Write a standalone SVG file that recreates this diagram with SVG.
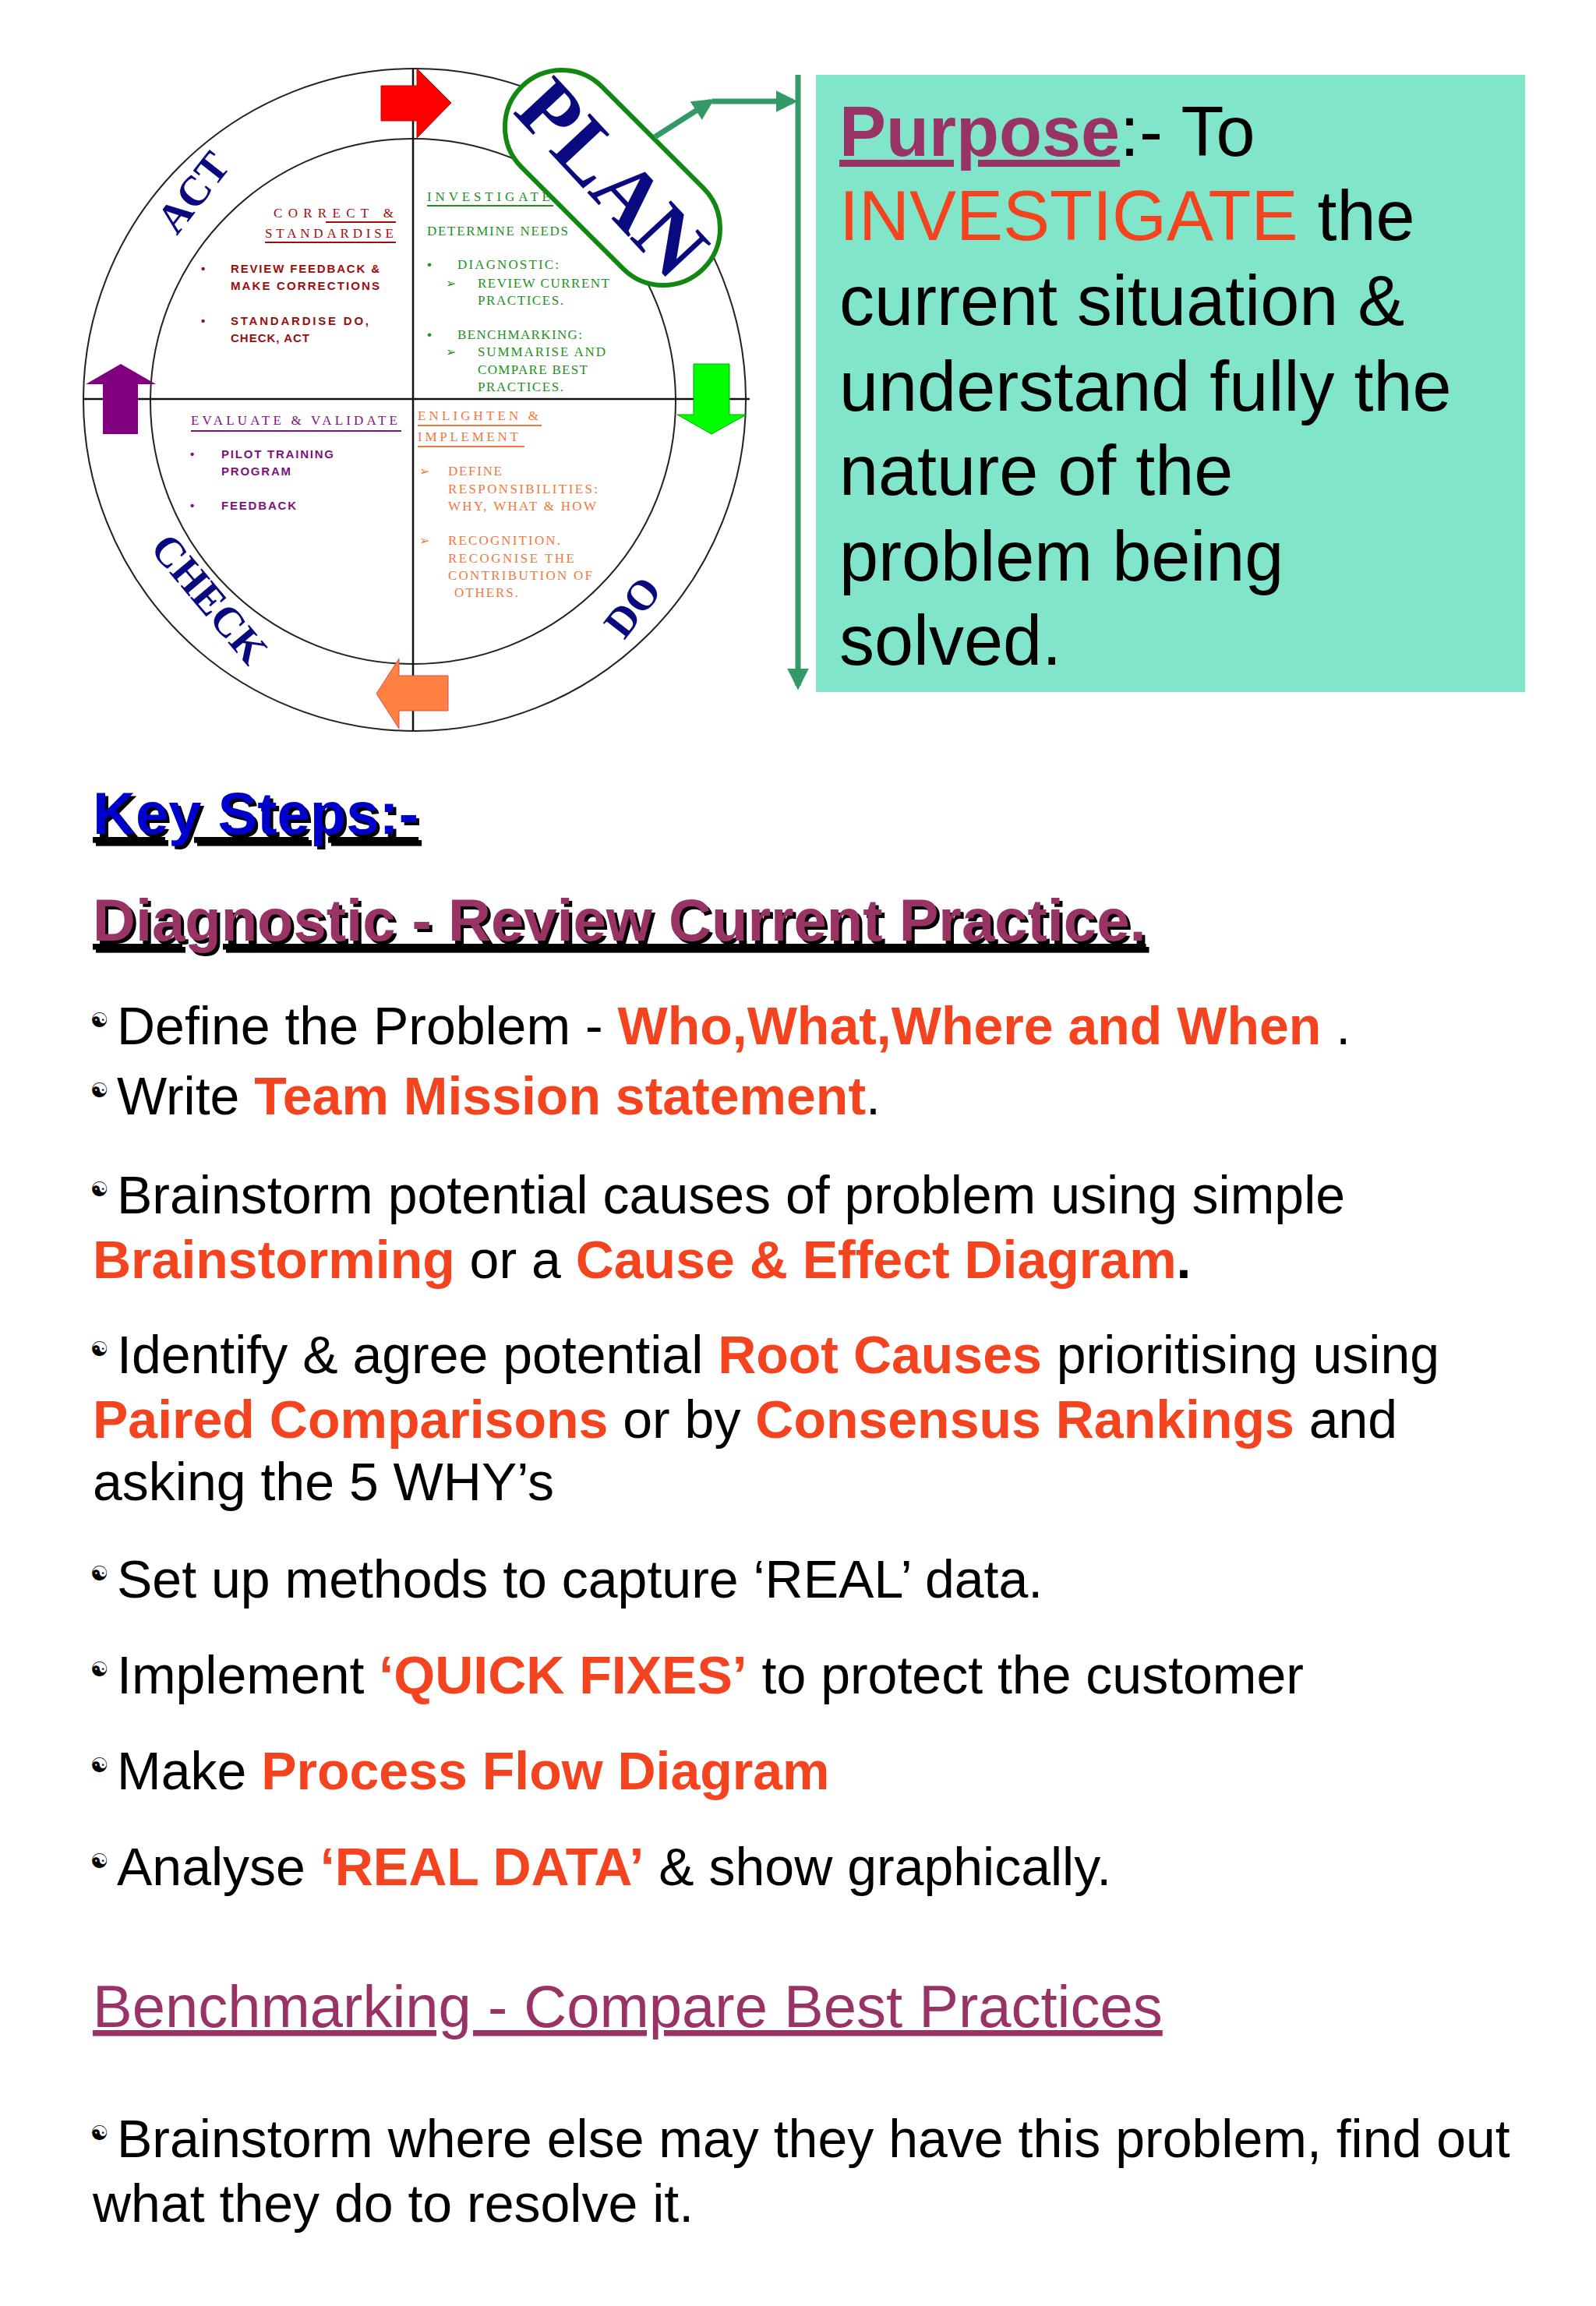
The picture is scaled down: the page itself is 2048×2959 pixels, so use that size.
<svg xmlns="http://www.w3.org/2000/svg" width="2048" height="2959" viewBox="0 0 2048 2959">
<style>
.ser{font-family:"Liberation Serif","Times New Roman",serif}
.sans{font-family:"Liberation Sans",Arial,sans-serif}
.q{font-size:17px}
.red{fill:#9a0d0d}.grn{fill:#1e8f1e}.pur{fill:#7d127d}.org{fill:#f2773c}
.lbl{font-family:"Liberation Serif",serif;font-weight:bold;fill:#0a0a80;font-size:54px}
.body{font-family:"Liberation Sans",Arial,sans-serif;font-size:68px;fill:#000}
.hi{fill:#f4431f;font-weight:bold}
.bul{font-family:"DejaVu Sans",sans-serif;font-size:26px;fill:#000}
.conn{stroke:#339966;stroke-width:7;fill:none}
</style>
<defs>
<marker id="ah" viewBox="0 0 10 10" refX="8" refY="5" markerWidth="4" markerHeight="4" orient="auto" markerUnits="strokeWidth"><path d="M0,0 L10,5 L0,10 z" fill="#339966"/></marker>
</defs>
<rect width="2048" height="2959" fill="#fff"/>
<g id="cycle">
<circle cx="532" cy="513" r="425" fill="none" stroke="#222" stroke-width="2"/>
<circle cx="530" cy="515" r="337" fill="none" stroke="#222" stroke-width="2"/>
<line x1="530" y1="88" x2="530" y2="938" stroke="#111" stroke-width="2.5"/>
<line x1="107" y1="512" x2="962" y2="512" stroke="#111" stroke-width="2.5"/>
<path d="M489,110 H535 V88 L579,132 L535,177 V155 H489 z" fill="#ff0000" stroke="#c00" stroke-width="1"/>
<path d="M890,467 H936 V532 H958 L913,557 L869,532 H890 z" fill="#00ff00" stroke="#0a0" stroke-width="1"/>
<path d="M132,557 V493 H110 L155,467 L200,493 H177 V557 z" fill="#800080"/>
<path d="M575,867 V912 H512 V935 L483,890 L512,845 V867 z" fill="#ff8040" stroke="#c55" stroke-width="1"/>
<text class="lbl" transform="translate(262,258) rotate(-52)" text-anchor="middle">ACT</text>
<text class="lbl" transform="translate(255,780) rotate(50)" text-anchor="middle">CHECK</text>
<text class="lbl" transform="translate(826,790) rotate(-52)" text-anchor="middle">DO</text>
</g>
<g id="plan">
<rect x="621" y="155" width="330" height="146" rx="73" ry="73" transform="rotate(45 786 228)" fill="#fff" stroke="#118811" stroke-width="6"/>
<text transform="translate(786,228) rotate(47)" text-anchor="middle" dominant-baseline="central" font-family="'Liberation Serif',serif" font-weight="bold" font-size="110" fill="#0a0a80">PLAN</text>
</g>
<g id="q-act" class="q">
<text class="ser red" x="505" y="279" text-anchor="end" textLength="154" lengthAdjust="spacing">CORRECT &amp;</text>
<line x1="418" y1="285" x2="508" y2="285" stroke="#9a0d0d" stroke-width="2"/>
<text class="ser red" x="340" y="305" textLength="165" lengthAdjust="spacing">STANDARDISE</text>
<line x1="340" y1="311" x2="508" y2="311" stroke="#9a0d0d" stroke-width="2"/>
<g class="sans red" font-size="15" font-weight="bold">
<text x="258" y="350">•</text><text x="296" y="350" textLength="191" lengthAdjust="spacing">REVIEW FEEDBACK &amp;</text>
<text x="296" y="372" textLength="191" lengthAdjust="spacing">MAKE CORRECTIONS</text>
<text x="258" y="417">•</text><text x="296" y="417" textLength="177" lengthAdjust="spacing">STANDARDISE DO,</text>
<text x="296" y="439" textLength="101" lengthAdjust="spacing">CHECK, ACT</text>
</g>
</g>
<g id="q-plan" class="ser grn q">
<text x="548" y="258" textLength="158" lengthAdjust="spacing">INVESTIGATE</text>
<line x1="548" y1="264" x2="710" y2="264" stroke="#1e8f1e" stroke-width="2"/>
<text x="548" y="302" textLength="181" lengthAdjust="spacing">DETERMINE NEEDS</text>
<text class="sans" x="548" y="345">•</text><text x="587" y="345" textLength="130" lengthAdjust="spacing">DIAGNOSTIC:</text>
<text class="sans" x="572" y="369" font-size="16">➢</text><text x="613" y="369" textLength="169" lengthAdjust="spacing">REVIEW CURRENT</text>
<text x="613" y="391" textLength="110" lengthAdjust="spacing">PRACTICES.</text>
<text class="sans" x="548" y="435">•</text><text x="587" y="435" textLength="160" lengthAdjust="spacing">BENCHMARKING:</text>
<text class="sans" x="572" y="457" font-size="16">➢</text><text x="613" y="457" textLength="164" lengthAdjust="spacing">SUMMARISE AND</text>
<text x="613" y="480" textLength="141" lengthAdjust="spacing">COMPARE BEST</text>
<text x="613" y="502" textLength="110" lengthAdjust="spacing">PRACTICES.</text>
</g>
<g id="q-check" class="q">
<text class="ser pur" x="245" y="545" textLength="265" lengthAdjust="spacing">EVALUATE &amp; VALIDATE</text>
<line x1="245" y1="553" x2="515" y2="553" stroke="#7d127d" stroke-width="2"/>
<g class="sans pur" font-size="15" font-weight="bold">
<text x="244" y="588">•</text><text x="284" y="588" textLength="144" lengthAdjust="spacing">PILOT TRAINING</text>
<text x="284" y="610" textLength="89" lengthAdjust="spacing">PROGRAM</text>
<text x="244" y="654">•</text><text x="284" y="654" textLength="96" lengthAdjust="spacing">FEEDBACK</text>
</g>
</g>
<g id="q-do" class="ser org q">
<text x="536" y="539" textLength="155" lengthAdjust="spacing">ENLIGHTEN &amp;</text>
<line x1="536" y1="546" x2="695" y2="546" stroke="#f2773c" stroke-width="2"/>
<text x="536" y="566" textLength="129" lengthAdjust="spacing">IMPLEMENT</text>
<line x1="536" y1="573" x2="673" y2="573" stroke="#f2773c" stroke-width="2"/>
<text class="sans" x="538" y="610" font-size="16">➢</text><text x="575" y="610" textLength="69" lengthAdjust="spacing">DEFINE</text>
<text x="575" y="633" textLength="192" lengthAdjust="spacing">RESPONSIBILITIES:</text>
<text x="575" y="655" textLength="190" lengthAdjust="spacing">WHY, WHAT &amp; HOW</text>
<text class="sans" x="538" y="699" font-size="16">➢</text><text x="575" y="699" textLength="144" lengthAdjust="spacing">RECOGNITION.</text>
<text x="575" y="722" textLength="162" lengthAdjust="spacing">RECOGNISE THE</text>
<text x="575" y="744" textLength="185" lengthAdjust="spacing">CONTRIBUTION OF</text>
<text x="583" y="766" textLength="82" lengthAdjust="spacing">OTHERS.</text>
</g>
<g id="connectors">
<line class="conn" x1="840" y1="176" x2="912" y2="130" marker-end="url(#ah)"/>
<line class="conn" x1="914" y1="130" x2="1018" y2="130" marker-end="url(#ah)"/>
<line class="conn" x1="1024" y1="96" x2="1024" y2="880" marker-end="url(#ah)"/>
</g>
<g id="purpose">
<rect x="1047" y="96" width="910" height="792" fill="#80e5c9"/>
<g class="sans" font-size="90" fill="#000">
<text x="1077" y="200"><tspan fill="#993366" font-weight="bold" text-decoration="underline">Purpose</tspan>:- To</text>
<text x="1077" y="308"><tspan fill="#f4431f">INVESTIGATE</tspan> the</text>
<text x="1077" y="417">current situation &amp;</text>
<text x="1077" y="527">understand fully the</text>
<text x="1077" y="635">nature of the</text>
<text x="1077" y="745">problem being</text>
<text x="1077" y="853">solved.</text>
</g>
</g>
<g id="steps">
<g class="sans" font-weight="bold" font-size="76" text-decoration="underline">
<text x="123" y="1074" fill="#000">Key Steps:-</text>
<text x="119" y="1070" fill="#0000cc">Key Steps:-</text>
<text x="123" y="1211" fill="#000">Diagnostic - Review Current Practice.</text>
<text x="119" y="1207" fill="#993366">Diagnostic - Review Current Practice.</text>
</g>
<g class="bul">
<text x="116" y="1318">☯</text><text x="116" y="1408">☯</text><text x="116" y="1535">☯</text>
<text x="116" y="1740">☯</text><text x="116" y="2028">☯</text><text x="116" y="2151">☯</text>
<text x="116" y="2274">☯</text><text x="116" y="2397">☯</text><text x="116" y="2746">☯</text>
</g>
<g class="body">
<text x="150" y="1340">Define the Problem - <tspan class="hi">Who,What,Where and When </tspan>.</text>
<text x="150" y="1430">Write <tspan class="hi">Team Mission statement</tspan>.</text>
<text x="150" y="1557">Brainstorm potential causes of problem using simple</text>
<text x="119" y="1640"><tspan class="hi">Brainstorming</tspan> or a <tspan class="hi">Cause &amp; Effect Diagram</tspan><tspan font-weight="bold">.</tspan></text>
<text x="150" y="1762">Identify &amp; agree potential <tspan class="hi">Root Causes</tspan> prioritising using</text>
<text x="119" y="1845"><tspan class="hi">Paired Comparisons</tspan> or by <tspan class="hi">Consensus Rankings</tspan> and</text>
<text x="119" y="1925">asking the 5 WHY’s</text>
<text x="150" y="2050">Set up methods to capture ‘REAL’ data.</text>
<text x="150" y="2173">Implement <tspan class="hi">‘QUICK FIXES’</tspan> to protect the customer</text>
<text x="150" y="2296">Make <tspan class="hi">Process Flow Diagram</tspan></text>
<text x="150" y="2419">Analyse <tspan class="hi">‘REAL DATA’</tspan> &amp; show graphically.</text>
<text x="119" y="2601" font-size="76" fill="#993366" text-decoration="underline">Benchmarking - Compare Best Practices</text>
<text x="150" y="2768">Brainstorm where else may they have this problem, find out</text>
<text x="119" y="2851">what they do to resolve it.</text>
</g>
</g>
</svg>
